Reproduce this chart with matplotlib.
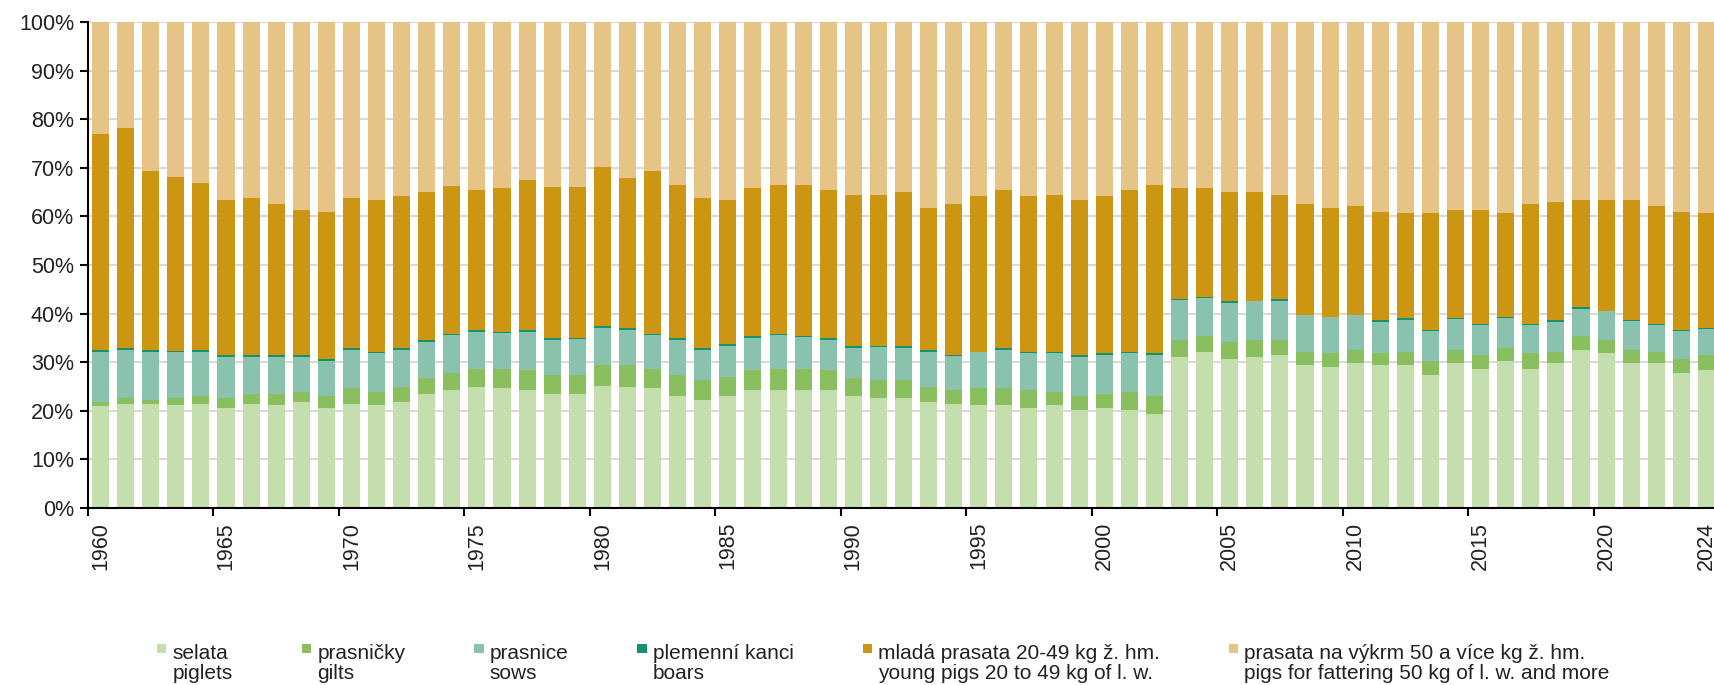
import matplotlib

matplotlib.use("Agg")
import matplotlib.pyplot as plt
import numpy as np
from matplotlib.legend_handler import HandlerPatch
from matplotlib.patches import Rectangle

plt.rcParams["font.family"] = ["Liberation Sans", "DejaVu Sans"]

years = list(range(1960, 2025))
tick_years = [1960, 1965, 1970, 1975, 1980, 1985, 1990, 1995, 2000,
              2005, 2010, 2015, 2020, 2024]

# shares in % of the total pig herd
piglets = [21.0, 21.5, 21.5, 21.1, 21.5, 20.6, 21.5, 21.1, 21.9, 20.6,
           21.5, 21.1, 21.9, 23.5, 24.3, 25.0, 24.6, 24.3, 23.4, 23.4,
           25.0, 25.0, 24.6, 23.0, 22.2, 23.0, 24.3, 24.3, 24.3, 24.3,
           23.0, 22.6, 22.6, 21.9, 21.5, 21.1, 21.1, 20.6, 21.1, 20.2,
           20.6, 20.2, 19.4, 31.0, 32.2, 30.7, 31.0, 31.4, 29.4, 29.0,
           29.8, 29.4, 29.4, 27.4, 29.8, 28.7, 30.2, 28.7, 29.8, 32.6,
           31.8, 29.8, 29.8, 27.8, 28.3]
gilts = [0.9, 1.1, 0.7, 1.5, 1.5, 2.0, 2.0, 2.4, 2.0, 2.4,
         3.1, 2.8, 3.1, 3.2, 3.5, 3.7, 4.1, 4.0, 4.0, 4.0,
         4.4, 4.4, 4.1, 4.4, 4.1, 4.0, 4.0, 4.4, 4.4, 4.0,
         3.7, 3.7, 3.7, 3.1, 2.8, 3.5, 3.5, 3.7, 2.8, 2.8,
         2.9, 3.7, 3.6, 3.6, 3.2, 3.5, 3.6, 3.2, 2.8, 2.8,
         2.8, 2.4, 2.8, 2.9, 2.8, 2.7, 2.8, 3.1, 2.4, 2.8,
         2.8, 2.8, 2.4, 2.9, 3.1]
sows = [10.3, 10.0, 10.0, 9.4, 9.2, 8.5, 7.6, 7.6, 7.2, 7.3,
        8.0, 7.9, 7.6, 7.5, 7.7, 7.5, 7.3, 7.9, 7.2, 7.4,
        7.6, 7.2, 6.8, 7.2, 6.3, 6.4, 6.7, 6.8, 6.5, 6.3,
        6.3, 6.9, 6.7, 7.2, 6.9, 7.4, 8.0, 7.5, 7.9, 8.1,
        7.9, 7.9, 8.4, 8.3, 7.9, 8.0, 7.9, 8.0, 7.5, 7.5,
        7.1, 6.4, 6.4, 6.2, 6.3, 6.3, 6.0, 5.9, 6.0, 5.6,
        5.9, 5.9, 5.5, 5.8, 5.5]
boars = [0.4, 0.4, 0.4, 0.3, 0.4, 0.3, 0.3, 0.3, 0.3, 0.4,
         0.4, 0.4, 0.4, 0.4, 0.3, 0.4, 0.3, 0.4, 0.4, 0.2,
         0.4, 0.4, 0.3, 0.4, 0.4, 0.4, 0.4, 0.3, 0.2, 0.4,
         0.4, 0.2, 0.4, 0.4, 0.2, 0.2, 0.4, 0.4, 0.4, 0.3,
         0.4, 0.4, 0.4, 0.1, 0.1, 0.4, 0.1, 0.4, 0.1, 0.1,
         0.1, 0.4, 0.4, 0.1, 0.1, 0.1, 0.4, 0.1, 0.4, 0.4,
         0.1, 0.1, 0.1, 0.1, 0.1]
young = [44.4, 45.1, 36.7, 35.9, 34.3, 32.0, 32.4, 31.2, 30.0, 30.3,
         30.8, 31.2, 31.1, 30.4, 30.4, 28.8, 29.5, 30.8, 31.1, 31.1,
         32.8, 30.8, 33.5, 31.5, 30.8, 29.6, 30.4, 30.7, 31.1, 30.4,
         31.1, 31.1, 31.6, 29.2, 31.2, 31.9, 32.4, 31.9, 32.3, 32.0,
         32.3, 33.2, 34.7, 22.8, 22.4, 22.4, 22.4, 21.5, 22.8, 22.4,
         22.3, 22.4, 21.6, 24.0, 22.4, 23.6, 21.2, 24.8, 24.4, 22.0,
         22.8, 24.8, 24.3, 24.4, 23.6]
fattening = [23.0, 21.9, 30.7, 31.8, 33.1, 36.6, 36.2, 37.4, 38.6, 39.0,
             36.2, 36.6, 35.9, 35.0, 33.8, 34.6, 34.2, 32.6, 33.9, 33.9,
             29.8, 32.2, 30.7, 33.5, 36.2, 36.6, 34.2, 33.5, 33.5, 34.6,
             35.5, 35.5, 35.0, 38.2, 37.4, 35.9, 34.6, 35.9, 35.5, 36.6,
             35.9, 34.6, 33.5, 34.2, 34.2, 35.0, 35.0, 35.5, 37.4, 38.2,
             37.9, 39.0, 39.4, 39.4, 38.6, 38.6, 39.4, 37.4, 37.0, 36.6,
             36.6, 36.6, 37.9, 39.0, 39.4]

series = [piglets, gilts, sows, boars, young, fattening]
labels = [
    "selata\npiglets",
    "prasničky\ngilts",
    "prasnice\nsows",
    "plemenní kanci\nboars",
    "mladá prasata 20-49 kg ž. hm.\nyoung pigs 20 to 49 kg of l. w.",
    "prasata na výkrm 50 a více kg ž. hm.\npigs for fattering 50 kg of l. w. and more",
]
colors = ["#c5deae", "#89bf5e", "#8ac3ad", "#15916f", "#cc9612", "#e6c485"]

fig = plt.figure(figsize=(17.15, 6.85), dpi=100)
ax = fig.add_axes([88 / 1715, 1 - 508 / 685, 1631 / 1715, 486 / 685])

data = np.array(series, dtype=float)
shares = data / data.sum(axis=0) * 100
x = np.arange(len(years))
bottom = np.zeros(len(years))
handles = []
for vals, col in zip(shares, colors):
    bars = ax.bar(x, vals, bottom=bottom, width=0.68, color=col, linewidth=0)
    handles.append(bars)
    bottom += vals

ax.set_xlim(-0.5, len(years) - 0.5)
ax.set_ylim(0, 100)
ax.set_yticks(range(0, 101, 10))
ax.set_yticklabels([f"{v}%" for v in range(0, 101, 10)])
ax.yaxis.grid(True, color="#d9d9d9", linewidth=1.5)
ax.set_axisbelow(True)

pos = [years.index(y) for y in tick_years]
ax.set_xticks(pos)
ax.set_xticklabels([str(y) for y in tick_years], rotation=90)
ax.tick_params(axis="x", length=0, pad=10, labelsize=15.5, colors="#222222")
edges = [p - 0.5 for p in pos[:-1]] + [len(years) - 0.5]
ax.set_xticks(edges, minor=True)
ax.tick_params(axis="x", which="minor", length=6, width=1.5, color="black")
ax.tick_params(axis="y", length=6, width=1.5, pad=4, labelsize=15.5,
               labelcolor="#222222")

for side in ("top", "right"):
    ax.spines[side].set_visible(False)
for side in ("left", "bottom"):
    ax.spines[side].set_linewidth(1.5)


def top_square(legend, orig_handle, xdescent, ydescent, width, height, fontsize):
    # put the colour square next to the first (Czech) line of the label
    s = 0.45 * fontsize
    return Rectangle((-xdescent, -ydescent + 0.85 * fontsize), s, s)


leg = fig.legend(
    [h[0] for h in handles], labels,
    loc="upper left", bbox_to_anchor=(157 / 1715, 1 - 644 / 685),
    ncol=6, frameon=False, fontsize=15,
    handlelength=0.45, handleheight=0.7, handletextpad=0.3,
    columnspacing=3.3, borderpad=0, borderaxespad=0,
    handler_map={h[0]: HandlerPatch(patch_func=top_square) for h in handles},
)
for t in leg.get_texts():
    t.set_linespacing(1.08)
    t.set_color("#222222")

fig.savefig("out.png", dpi=100)
